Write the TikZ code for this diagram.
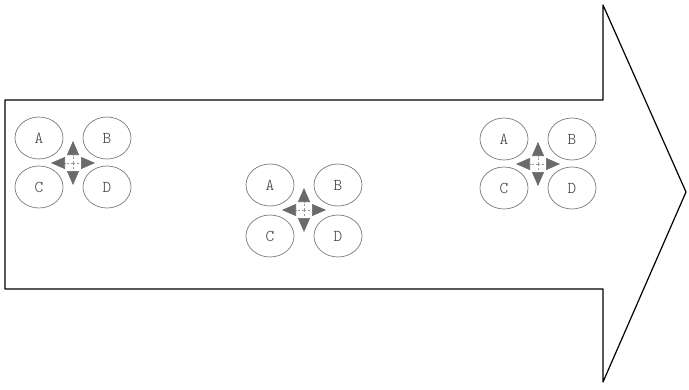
\documentclass[tikz,border=0pt]{standalone}
\usetikzlibrary{shapes.geometric,arrows.meta}
\definecolor{ringgray}{HTML}{7A7A7A}
\definecolor{headgray}{HTML}{6A6A6A}
\definecolor{dashgray}{HTML}{9A9A9A}
\definecolor{textgray}{HTML}{3A3A3A}
\tikzset{
  bigarrow/.style={draw=black, line width=1.2pt, line join=round, fill=white},
  ring/.style={ellipse, draw=ringgray, line width=0.7pt, minimum width=48pt, minimum height=42pt, inner sep=0pt, text=textgray, font=\ttfamily\fontseries{l}\fontsize{16.5}{16.5}\selectfont},
  crossarm/.style={draw=dashgray, line width=0.6pt, dash pattern=on 2pt off 2pt,
    -{Triangle[width=12pt,length=14pt,fill=headgray,color=headgray]}}
}
\newcommand\quadgroup[4]{%
  \node[ring] (#1A) at (#2-34,#3-25) {A};
  \node[ring] (#1B) at (#2+34,#3-25) {B};
  \node[ring] (#1C) at (#2-34,#3+#4-25) {C};
  \node[ring] (#1D) at (#2+34,#3+#4-25) {D};
  \coordinate (#1c) at (#2,#3);
  \draw[crossarm] (#1c) -- ++(0,-22);
  \draw[crossarm] (#1c) -- ++(0,22);
  \draw[crossarm] (#1c) -- ++(-22,0);
  \draw[crossarm] (#1c) -- ++(22,0);
}
\begin{document}
\begin{tikzpicture}[x=1pt,y=-1pt]
\useasboundingbox (0,0) rectangle (689,389);
\coordinate (p1) at (5,100);
\coordinate (p2) at (603,100);
\coordinate (p3) at (603,5);
\coordinate (p4) at (686,192);
\coordinate (p5) at (603,382);
\coordinate (p6) at (603,289);
\coordinate (p7) at (5,289);
\draw[bigarrow] (p1) -- (p2) -- (p3) -- (p4) -- (p5) -- (p6) -- (p7) -- cycle;
\quadgroup{g1}{73}{163}{49}
\quadgroup{g2}{304}{210}{51}
\quadgroup{g3}{538}{164}{49}
\end{tikzpicture}
\end{document}
